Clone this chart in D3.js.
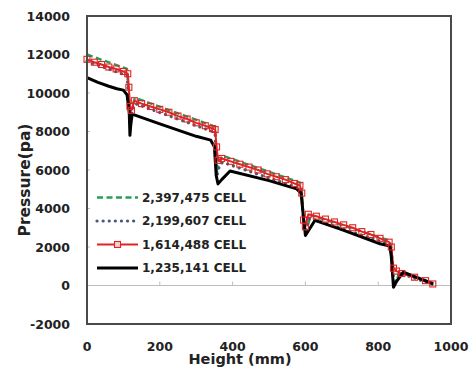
<!DOCTYPE html>
<html>
<head>
<meta charset="utf-8">
<script src="https://cdn.jsdelivr.net/npm/d3@7"></script>
<style>
    html, body { margin: 0; padding: 0; background: #fff; }
    svg { display: block; font-family: 'DejaVu Sans', Verdana, sans-serif; }
</style>
</head>
<body>
<script>
// values: [height mm, pressure pa]
var cell2397475 = [
    [0, 12000], [110, 11250], [114, 10000], [118, 9000], [125, 9400], [132, 9750],
    [345, 8300], [352, 8200], [357, 6000], [362, 6300], [372, 6750],
    [585, 5350], [590, 5000], [596, 3000], [603, 2900], [615, 3650],
    [830, 2350], [836, 2000], [842, 400], [848, 100], [858, 700], [950, 100]
];
var cell2199607 = [
    [0, 11650], [110, 10900], [114, 10000], [118, 8500], [125, 9200], [132, 9450],
    [345, 8000], [352, 7900], [357, 5700], [362, 6100], [372, 6400],
    [585, 5050], [590, 4600], [596, 3000], [603, 3000], [612, 3500],
    [830, 2150], [836, 1800], [842, 200], [848, 100], [858, 650], [950, 50]
];
var cell1614488 = [
    [0, 11750], [20, 11600], [40, 11480], [60, 11350], [80, 11250], [100, 11120],
    [112, 11000], [115, 10300], [118, 9300], [122, 9100], [130, 9600], [150, 9450],
    [175, 9300], [200, 9150], [225, 9000], [250, 8800], [275, 8650], [300, 8450],
    [325, 8300], [345, 8150], [352, 8100], [356, 7200], [360, 6500], [370, 6600],
    [395, 6450], [420, 6300], [445, 6150], [470, 6000], [495, 5800], [520, 5650],
    [545, 5500], [570, 5300], [585, 5200], [590, 4800], [595, 3400], [600, 3050],
    [608, 3700], [630, 3600], [655, 3450], [680, 3300], [705, 3150], [730, 3000],
    [755, 2800], [780, 2650], [805, 2450], [830, 2250], [836, 2000], [842, 900],
    [850, 750], [865, 620], [900, 430], [930, 250], [950, 80]
];
var cell1235141 = [
    [0, 10800], [30, 10550], [60, 10350], [82, 10220], [100, 10150], [110, 9900],
    [116, 9000], [118, 7800], [120, 8300], [124, 8900], [200, 8400], [300, 7750],
    [340, 7550], [350, 7200], [355, 5700], [360, 5280], [370, 5500], [393, 5950],
    [500, 5450], [576, 5020], [588, 4800], [595, 3500], [600, 2600], [610, 2900],
    [626, 3380], [700, 2900], [805, 2170], [832, 2050], [836, 1500], [842, -90],
    [850, 200], [869, 690], [951, 90]
];
var seriesNames = ['2,397,475 CELL', '2,199,607 CELL', '1,614,488 CELL', '1,235,141 CELL'];
var xTicks = [0, 200, 400, 600, 800, 1000];
var yTicks = [-2000, 0, 2000, 4000, 6000, 8000, 10000, 12000, 14000];

(function() {
    var width = 471,
        height = 368,
        mLeft = 87, mRight = 451, mTop = 16, mBottom = 324;

    var svg = d3.select('body').append('svg')
            .attr('width', width)
            .attr('height', height),
        xScale = d3.scaleLinear().domain([0, 1000]).range([mLeft, mRight]),
        yScale = d3.scaleLinear().domain([-2000, 14000]).range([mBottom, mTop]),
        line = d3.line()
            .x(function(d) { return xScale(d[0]); })
            .y(function(d) { return yScale(d[1]); });

    var styles = [
        {data: cell2397475, color: '#2a9d5c', width: 2.4, dash: '6,3.5', cap: 'butt'},
        {data: cell2199607, color: '#4b5a78', width: 3.2, dash: '0.1,6', cap: 'round'},
        {data: cell1614488, color: '#e02424', width: 2, dash: null, cap: 'butt', marker: true},
        {data: cell1235141, color: '#000', width: 3, dash: null, cap: 'butt'}
    ];

    // zero line with x ticks sitting on it
    svg.append('line')
        .attr('x1', mLeft).attr('x2', mRight)
        .attr('y1', yScale(0)).attr('y2', yScale(0))
        .attr('stroke', '#bdbdbd')
        .attr('stroke-width', 1);

    svg.append('g')
        .selectAll('line')
        .data(xTicks)
        .enter()
        .append('line')
        .attr('x1', function(d) { return xScale(d); })
        .attr('x2', function(d) { return xScale(d); })
        .attr('y1', yScale(0))
        .attr('y2', yScale(0) - 4)
        .attr('stroke', '#bdbdbd');

    // y ticks, small and inside
    svg.append('g')
        .selectAll('line')
        .data(yTicks)
        .enter()
        .append('line')
        .attr('x1', mLeft)
        .attr('x2', mLeft + 3)
        .attr('y1', function(d) { return yScale(d); })
        .attr('y2', function(d) { return yScale(d); })
        .attr('stroke', '#bdbdbd');

    svg.append('g')
        .selectAll('path')
        .data(styles)
        .enter()
        .append('path')
        .attr('d', function(d) { return line(d.data); })
        .attr('fill', 'none')
        .attr('stroke', function(d) { return d.color; })
        .attr('stroke-width', function(d) { return d.width; })
        .attr('stroke-dasharray', function(d) { return d.dash; })
        .attr('stroke-linecap', function(d) { return d.cap; })
        .attr('stroke-linejoin', 'round');

    svg.append('g')
        .selectAll('rect')
        .data(cell1614488)
        .enter()
        .append('rect')
        .attr('x', function(d) { return xScale(d[0]) - 3; })
        .attr('y', function(d) { return yScale(d[1]) - 3; })
        .attr('width', 6)
        .attr('height', 6)
        .attr('fill', 'none')
        .attr('stroke', '#e02424')
        .attr('stroke-width', 1.1);

    // plot frame
    svg.append('rect')
        .attr('x', mLeft)
        .attr('y', mTop)
        .attr('width', mRight - mLeft)
        .attr('height', mBottom - mTop)
        .attr('fill', 'none')
        .attr('stroke', '#4a4a4a')
        .attr('stroke-width', 2);

    svg.append('g')
        .selectAll('text')
        .data(yTicks)
        .enter()
        .append('text')
        .attr('x', 70)
        .attr('y', function(d) { return yScale(d); })
        .attr('dy', '0.36em')
        .attr('text-anchor', 'end')
        .style('font-size', '12.5px')
        .style('font-weight', 'bold')
        .attr('fill', '#222')
        .text(function(d) { return d; });

    svg.append('g')
        .selectAll('text')
        .data(xTicks)
        .enter()
        .append('text')
        .attr('x', function(d) { return xScale(d); })
        .attr('y', 351)
        .attr('text-anchor', 'middle')
        .style('font-size', '12.5px')
        .style('font-weight', 'bold')
        .attr('fill', '#222')
        .text(function(d) { return d; });

    svg.append('text')
        .attr('x', 240)
        .attr('y', 364)
        .attr('text-anchor', 'middle')
        .style('font-size', '14.5px')
        .style('font-weight', 'bold')
        .attr('fill', '#222')
        .text('Height (mm)');

    svg.append('text')
        .attr('transform', 'translate(30,180) rotate(-90)')
        .attr('text-anchor', 'middle')
        .style('font-size', '15.5px')
        .style('font-weight', 'bold')
        .attr('fill', '#222')
        .text('Pressure(pa)');

    // legend
    var legend = svg.append('g').selectAll('g')
        .data(styles)
        .enter()
        .append('g')
        .attr('transform', function(d, i) { return 'translate(0,' + (197.5 + i * 23.5) + ')'; });

    legend.append('line')
        .attr('x1', 97)
        .attr('x2', 138)
        .attr('stroke', function(d) { return d.color; })
        .attr('stroke-width', function(d) { return d.width; })
        .attr('stroke-dasharray', function(d) { return d.dash; })
        .attr('stroke-linecap', function(d) { return d.cap; });

    legend.filter(function(d) { return d.marker; })
        .append('rect')
        .attr('x', 114.5)
        .attr('y', -3)
        .attr('width', 6)
        .attr('height', 6)
        .attr('fill', '#f7d0d0')
        .attr('stroke', '#e02424')
        .attr('stroke-width', 1.1);

    legend.append('text')
        .attr('x', 142)
        .attr('dy', '0.36em')
        .style('font-size', '12px')
        .style('font-weight', 'bold')
        .attr('fill', '#222')
        .text(function(d, i) { return seriesNames[i]; });
})();
</script>
</body>
</html>
